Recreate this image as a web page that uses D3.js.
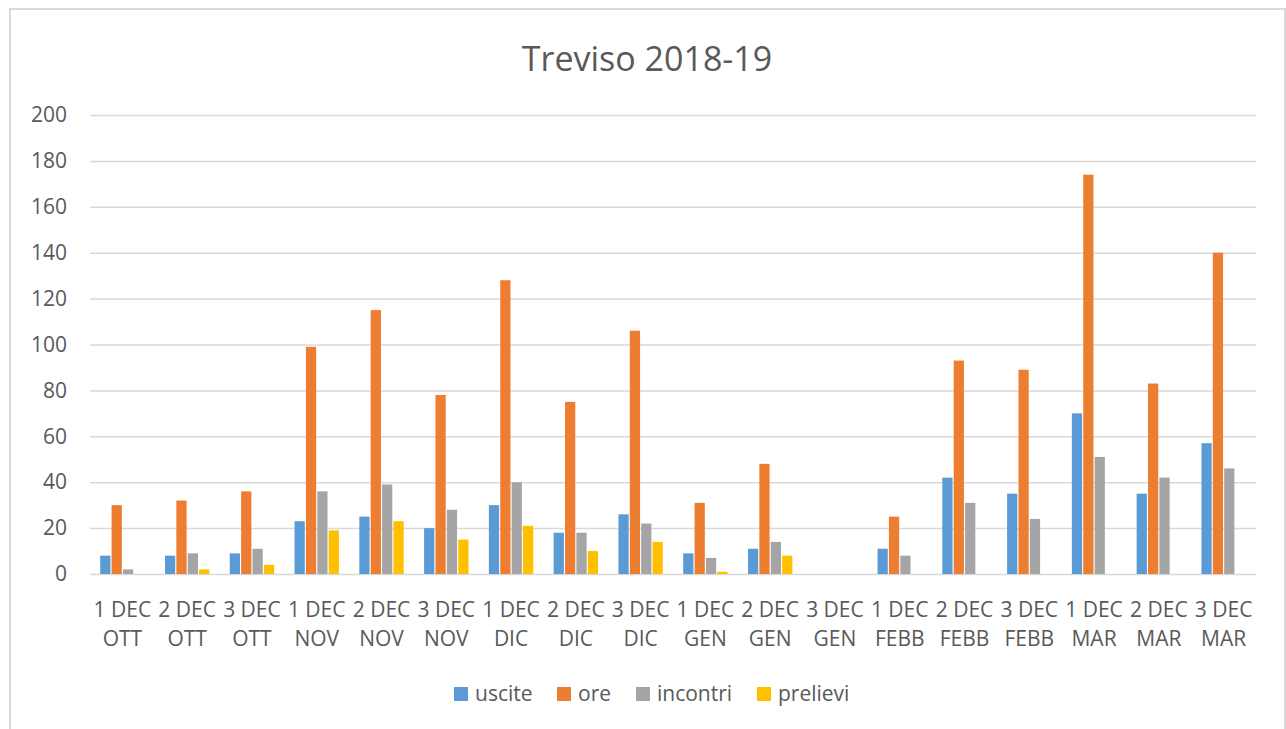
<!DOCTYPE html>
<html>
<head>
<meta charset="utf-8">
<title>Treviso 2018-19</title>
<script type="text/javascript" src="https://d3js.org/d3.v7.min.js"></script>
<style>
body { margin: 0; background: #fff; }
text { font-family: "Open Sans", sans-serif; fill: #595959; }
</style>
</head>
<body>
<div id="container"></div>
<script>

//--------------------------DATA---------------------------------//
var decadi = ["1 DEC", "2 DEC", "3 DEC", "1 DEC", "2 DEC", "3 DEC", "1 DEC", "2 DEC", "3 DEC",
              "1 DEC", "2 DEC", "3 DEC", "1 DEC", "2 DEC", "3 DEC", "1 DEC", "2 DEC", "3 DEC"];
var mesi = ["OTT", "OTT", "OTT", "NOV", "NOV", "NOV", "DIC", "DIC", "DIC",
            "GEN", "GEN", "GEN", "FEBB", "FEBB", "FEBB", "MAR", "MAR", "MAR"];
var serie = ["uscite", "ore", "incontri", "prelievi"];
var uscite   = [8, 8, 9, 23, 25, 20, 30, 18, 26, 9, 11, 0, 11, 42, 35, 70, 35, 57];
var ore      = [30, 32, 36, 99, 115, 78, 128, 75, 106, 31, 48, 0, 25, 93, 89, 174, 83, 140];
var incontri = [2, 9, 11, 36, 39, 28, 40, 18, 22, 7, 14, 0, 8, 31, 24, 51, 42, 46];
var prelievi = [0, 2, 4, 19, 23, 15, 21, 10, 14, 1, 8, 0, 0, 0, 0, 0, 0, 0];
var yTicks = [0, 20, 40, 60, 80, 100, 120, 140, 160, 180, 200];
var colori = ["#5B9BD5", "#ED7D31", "#A5A5A5", "#FFC000"];

var valori = { uscite: uscite, ore: ore, incontri: incontri, prelievi: prelievi };
var data = decadi.map(function(d, i) {
    return { i: i, dec: d, mese: mesi[i],
             values: serie.map(function(s) { return { key: s, value: valori[s][i] }; }) };
});

//--------------------------SVG----------------------------------//
var width = 1286, height = 729;
var plotLeft = 90, plotRight = 1256, plotTop = 115, plotBottom = 574;

var svg = d3.select("#container").append("svg")
    .attr("width", width)
    .attr("height", height);

// chart border
svg.append("rect")
    .attr("x", 10).attr("y", 9)
    .attr("width", 1275).attr("height", 760)
    .attr("fill", "#fff")
    .attr("stroke", "#d9d9d9")
    .attr("stroke-width", 2);

//--------------------------SCALES-------------------------------//
var x0 = d3.scaleBand()
    .domain(d3.range(data.length))
    .range([plotLeft, plotRight])
    .paddingInner(0.28)
    .paddingOuter(0.14);

var x1 = d3.scaleBand()
    .domain(serie)
    .range([0, x0.bandwidth()])
    .padding(0.1);

var y = d3.scaleLinear()
    .domain([0, 200])
    .range([plotBottom, plotTop]);

var color = d3.scaleOrdinal().domain(serie).range(colori);

//--------------------------GRID + AXIS--------------------------//
var yAxis = d3.axisLeft(y)
    .tickValues(yTicks)
    .tickSize(-(plotRight - plotLeft))
    .tickPadding(23);

var gy = svg.append("g")
    .attr("transform", "translate(" + plotLeft + ",0)")
    .call(yAxis);
gy.select(".domain").remove();
gy.selectAll(".tick line").attr("stroke", "#d9d9d9").attr("stroke-width", 1.5);
gy.selectAll(".tick text")
    .style("font-family", "'Open Sans', sans-serif")
    .style("font-size", "21px")
    .attr("fill", "#595959");

// category labels (two lines)
var xl = svg.append("g");
xl.selectAll(".dec")
    .data(data)
    .enter().append("text")
    .attr("x", function(d) { return x0(d.i) + x0.bandwidth() / 2; })
    .attr("y", 617)
    .attr("text-anchor", "middle")
    .style("font-size", "21px")
    .text(function(d) { return d.dec; });
xl.selectAll(".mese")
    .data(data)
    .enter().append("text")
    .attr("x", function(d) { return x0(d.i) + x0.bandwidth() / 2; })
    .attr("y", 646)
    .attr("text-anchor", "middle")
    .style("font-size", "21px")
    .text(function(d) { return d.mese; });

//--------------------------BARS---------------------------------//
var groups = svg.selectAll(".grp")
    .data(data)
    .enter().append("g")
    .attr("transform", function(d) { return "translate(" + x0(d.i) + ",0)"; });

groups.selectAll("rect")
    .data(function(d) { return d.values.filter(function(v) { return v.value > 0; }); })
    .enter().append("rect")
    .attr("x", function(d) { return x1(d.key); })
    .attr("y", function(d) { return y(d.value); })
    .attr("width", x1.bandwidth())
    .attr("height", function(d) { return y(0) - y(d.value); })
    .attr("fill", function(d) { return color(d.key); });

//--------------------------TITLE--------------------------------//
svg.append("text")
    .attr("x", 647)
    .attr("y", 71)
    .attr("text-anchor", "middle")
    .style("font-size", "34px")
    .text("Treviso 2018-19");

//--------------------------LEGEND-------------------------------//
var legendX = [454, 557, 636, 757];
var leg = svg.selectAll(".leg")
    .data(serie)
    .enter().append("g")
    .attr("transform", function(d, i) { return "translate(" + legendX[i] + ",687)"; });
leg.append("rect")
    .attr("width", 14).attr("height", 14)
    .attr("fill", function(d) { return color(d); });
leg.append("text")
    .attr("x", 21)
    .attr("y", 14)
    .style("font-size", "21px")
    .text(function(d) { return d; });

</script>
</body>
</html>
